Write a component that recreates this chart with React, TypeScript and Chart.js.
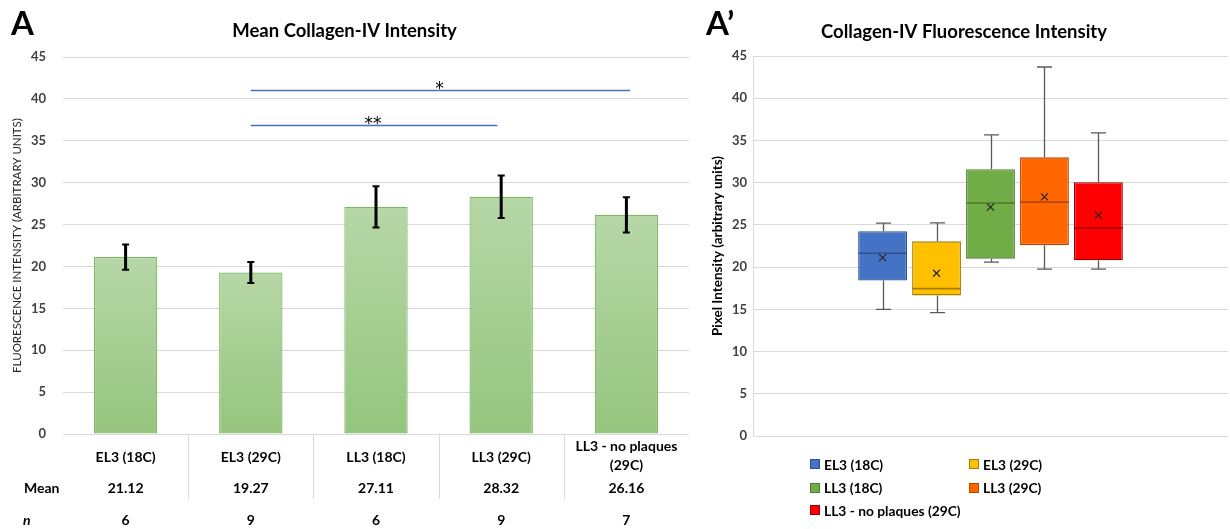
import React, { useEffect, useRef } from 'react';
import { Chart, registerables } from 'chart.js';

Chart.register(...registerables);

const FONT = 'Lato, "Open Sans", "DejaVu Sans", sans-serif';
const STAR_FONT = '"DejaVu Sans", sans-serif';

// ---------- Panel A: bar chart ----------
const categories = ['EL3 (18C)', 'EL3 (29C)', 'LL3 (18C)', 'LL3 (29C)', 'LL3 - no plaques (29C)'];
const categoryLines = [['EL3 (18C)'], ['EL3 (29C)'], ['LL3 (18C)'], ['LL3 (29C)'], ['LL3 - no plaques', '(29C)']];
const meanValues = [21.12, 19.27, 27.11, 28.32, 26.16];
const errorValues = [1.5, 1.25, 2.45, 2.55, 2.1];
const nValues = [6, 9, 6, 9, 7];
const sigFrom = [1, 1];
const sigTo = [4.03, 2.97];
const sigLevel = [41.1, 36.9];
const sigLabels = ['*', '**'];
const leftTitle = 'Mean Collagen-IV Intensity';
const leftYTitle = 'FLUORESCENCE INTENSITY (ARBITRARY UNITS)';

// ---------- Panel A': box plot ----------
const boxLabels = ['EL3 (18C)', 'EL3 (29C)', 'LL3 (18C)', 'LL3 (29C)', 'LL3 - no plaques (29C)'];
const boxMin = [15.0, 14.6, 20.6, 19.75, 19.75];
const boxQ1 = [18.4, 16.65, 21.0, 22.6, 20.8];
const boxMedian = [21.65, 17.45, 27.6, 27.7, 24.6];
const boxQ3 = [24.25, 23.05, 31.6, 33.0, 30.05];
const boxMax = [25.2, 25.25, 35.65, 43.7, 35.9];
const boxMean = [21.12, 19.27, 27.11, 28.32, 26.16];
const boxFill = ['#4472c4', '#ffc000', '#70ad47', '#ff6600', '#ff0000'];
const boxEdge = ['#2f528f', '#a37b00', '#4e7a31', '#b34700', '#9c0000'];
const rightTitle = 'Collagen-IV Fluorescence Intensity';
const rightYTitle = 'Pixel Intensity (arbitrary units)';

const yMin = 0;
const yMax = 45;
const yStep = 5;

function LeftChart() {
  const ref = useRef<HTMLCanvasElement>(null);
  useEffect(() => {
    const canvas = ref.current!;
    const overlay = {
      id: 'leftOverlay',
      afterDatasetsDraw(chart: any) {
        const ctx = chart.ctx;
        const xs = chart.scales.x;
        const ys = chart.scales.y;
        ctx.save();
        // error bars
        ctx.strokeStyle = '#000';
        for (let i = 0; i < meanValues.length; i++) {
          const cx = xs.getPixelForValue(i);
          const top = ys.getPixelForValue(meanValues[i] + errorValues[i]);
          const bot = ys.getPixelForValue(meanValues[i] - errorValues[i]);
          ctx.lineWidth = 3;
          ctx.beginPath();
          ctx.moveTo(cx, top);
          ctx.lineTo(cx, bot);
          ctx.stroke();
          ctx.lineWidth = 2;
          ctx.beginPath();
          ctx.moveTo(cx - 3.5, top);
          ctx.lineTo(cx + 3.5, top);
          ctx.moveTo(cx - 3.5, bot);
          ctx.lineTo(cx + 3.5, bot);
          ctx.stroke();
        }
        // significance lines
        for (let k = 0; k < sigLevel.length; k++) {
          const x1 = xs.getPixelForValue(sigFrom[k]);
          const x2 = xs.getPixelForValue(sigTo[k]);
          const y = Math.round(ys.getPixelForValue(sigLevel[k])) + 0.5;
          ctx.strokeStyle = '#4472c4';
          ctx.lineWidth = 1.5;
          ctx.beginPath();
          ctx.moveTo(x1, y);
          ctx.lineTo(x2, y);
          ctx.stroke();
          ctx.fillStyle = '#000';
          ctx.font = `17px ${STAR_FONT}`;
          ctx.textAlign = 'center';
          ctx.textBaseline = 'alphabetic';
          ctx.fillText(sigLabels[k], (x1 + x2) / 2 - 1, y + 3);
        }
        ctx.restore();
      },
      afterDraw(chart: any) {
        const ctx = chart.ctx;
        const xs = chart.scales.x;
        const base = chart.chartArea.bottom;
        ctx.save();
        ctx.strokeStyle = '#d9d9d9';
        ctx.lineWidth = 1;
        for (let i = 0; i < categories.length - 1; i++) {
          const px = Math.round(xs.getPixelForValue(i + 0.5)) + 0.5;
          ctx.beginPath();
          ctx.moveTo(px, base);
          ctx.lineTo(px, base + 65);
          ctx.stroke();
        }
        ctx.fillStyle = '#000';
        ctx.textAlign = 'center';
        ctx.textBaseline = 'middle';
        ctx.font = `bold 14px ${FONT}`;
        for (let i = 0; i < categories.length; i++) {
          const cx = xs.getPixelForValue(i);
          const lines = categoryLines[i];
          if (lines.length === 1) {
            ctx.fillText(lines[0], cx, base + 23);
          } else {
            ctx.fillText(lines[0], cx, base + 12);
            ctx.fillText(lines[1], cx, base + 31);
          }
          ctx.fillText(meanValues[i].toFixed(2), cx, base + 54);
          ctx.fillText(String(nValues[i]), cx, base + 86);
        }
        ctx.textAlign = 'left';
        ctx.fillText('Mean', 24, base + 54);
        ctx.font = `italic bold 14px ${FONT}`;
        ctx.fillText('n', 23, base + 86);
        ctx.restore();
      },
    };
    const chart = new Chart(canvas, {
      type: 'bar',
      data: {
        labels: categories,
        datasets: [
          {
            data: meanValues,
            backgroundColor: (c: any) => {
              const ch = c.chart;
              if (!ch.chartArea || c.type !== 'data') return '#a9d18e';
              const ys = ch.scales.y;
              const top = ys.getPixelForValue(meanValues[c.dataIndex]);
              const bot = ys.getPixelForValue(0);
              const g = ch.ctx.createLinearGradient(0, top, 0, bot);
              g.addColorStop(0, '#b6d7a7');
              g.addColorStop(1, '#95c57e');
              return g;
            },
            borderColor: '#7db85c',
            borderWidth: 1.2,
            borderSkipped: false,
            categoryPercentage: 1,
            barPercentage: 0.506,
          },
        ],
      },
      options: {
        animation: false,
        responsive: false,
        maintainAspectRatio: false,
        layout: { padding: { left: 0, right: 11, top: 0, bottom: 95 } },
        plugins: {
          legend: { display: false },
          tooltip: { enabled: false },
          title: {
            display: true,
            text: leftTitle,
            color: '#000',
            font: { family: FONT, size: 18.5, weight: 'bold' },
            padding: { top: 19.9, bottom: 14.9 },
          },
        },
        scales: {
          x: { display: false },
          y: {
            min: yMin,
            max: yMax,
            ticks: { stepSize: yStep, color: '#404040', font: { family: FONT, size: 13, weight: 'bold' }, padding: 17 },
            grid: { color: '#d9d9d9', drawTicks: false },
            border: { display: false },
            title: {
              display: true,
              text: leftYTitle,
              color: '#262626',
              font: { family: FONT, size: 11.5 },
              padding: { top: 10.1, bottom: 0 },
            },
            afterFit: (s: any) => {
              s.width = 63;
            },
          },
        },
      },
      plugins: [overlay],
    } as any);
    return () => chart.destroy();
  }, []);
  return (
    <canvas
      ref={ref}
      width={700}
      height={529}
      style={{ position: 'absolute', left: 0, top: 0, width: 700, height: 529 }}
    />
  );
}

function RightChart() {
  const ref = useRef<HTMLCanvasElement>(null);
  useEffect(() => {
    const canvas = ref.current!;
    const boxPlugin = {
      id: 'boxOverlay',
      afterDatasetsDraw(chart: any) {
        const ctx = chart.ctx;
        const ys = chart.scales.y;
        ctx.save();
        for (let i = 0; i < boxLabels.length; i++) {
          const el = chart.getDatasetMeta(i).data[0];
          const { x, width } = el.getProps(['x', 'width'], true);
          const cx = Math.round(x) + 0.5;
          const yMaxP = ys.getPixelForValue(boxMax[i]);
          const yQ3 = ys.getPixelForValue(boxQ3[i]);
          const yQ1 = ys.getPixelForValue(boxQ1[i]);
          const yMinP = ys.getPixelForValue(boxMin[i]);
          ctx.strokeStyle = '#595959';
          ctx.lineWidth = 1.3;
          ctx.beginPath();
          ctx.moveTo(cx, yMaxP);
          ctx.lineTo(cx, yQ3);
          ctx.moveTo(cx, yQ1);
          ctx.lineTo(cx, yMinP);
          ctx.moveTo(cx - 7.5, yMaxP);
          ctx.lineTo(cx + 7.5, yMaxP);
          ctx.moveTo(cx - 7.5, yMinP);
          ctx.lineTo(cx + 7.5, yMinP);
          ctx.stroke();
          // median
          const yMed = ys.getPixelForValue(boxMedian[i]);
          ctx.strokeStyle = boxEdge[i];
          ctx.lineWidth = 1.6;
          ctx.beginPath();
          ctx.moveTo(x - width / 2, yMed);
          ctx.lineTo(x + width / 2, yMed);
          ctx.stroke();
          // mean marker
          const yMean = ys.getPixelForValue(boxMean[i]);
          ctx.strokeStyle = '#262626';
          ctx.lineWidth = 1.2;
          ctx.beginPath();
          ctx.moveTo(x - 3.5, yMean - 3.5);
          ctx.lineTo(x + 3.5, yMean + 3.5);
          ctx.moveTo(x + 3.5, yMean - 3.5);
          ctx.lineTo(x - 3.5, yMean + 3.5);
          ctx.stroke();
        }
        ctx.restore();
      },
    };
    const chart = new Chart(canvas, {
      type: 'bar',
      data: {
        labels: ['Collagen-IV'],
        datasets: boxLabels.map((lab, i) => ({
          label: lab,
          data: [[boxQ1[i], boxQ3[i]]],
          backgroundColor: boxFill[i],
          borderColor: boxEdge[i],
          borderWidth: 1.3,
          borderSkipped: false,
          categoryPercentage: 0.568,
          barPercentage: 0.905,
        })),
      },
      options: {
        animation: false,
        responsive: false,
        maintainAspectRatio: false,
        layout: { padding: { left: 0, right: 2, top: 0, bottom: 93 } },
        plugins: {
          legend: { display: false },
          tooltip: { enabled: false },
          title: {
            display: true,
            text: rightTitle,
            color: '#000',
            font: { family: FONT, size: 18.5, weight: 'bold' },
            padding: { top: 20.9, bottom: 12.9 },
          },
        },
        scales: {
          x: { display: false },
          y: {
            min: yMin,
            max: yMax,
            ticks: { stepSize: yStep, color: '#404040', font: { family: FONT, size: 13, weight: 'bold' }, padding: 6 },
            grid: { color: '#d9d9d9', drawTicks: false },
            border: { display: true, color: '#d9d9d9' },
            title: {
              display: true,
              text: rightYTitle,
              color: '#000',
              font: { family: FONT, size: 13.5, weight: 'bold' },
              padding: { top: 9.9, bottom: 0 },
            },
            afterFit: (s: any) => {
              s.width = 53;
            },
          },
        },
      },
      plugins: [boxPlugin],
    } as any);
    return () => chart.destroy();
  }, []);
  return (
    <canvas
      ref={ref}
      width={530}
      height={529}
      style={{ position: 'absolute', left: 700, top: 0, width: 530, height: 529 }}
    />
  );
}

const legendCols = [810, 969];
const legendRows = [464, 487.7, 510.3];

function Legend() {
  return (
    <>
      {boxLabels.map((lab, i) => {
        const col = i % 2;
        const row = Math.floor(i / 2);
        return (
          <div
            key={lab}
            style={{
              position: 'absolute',
              left: legendCols[col],
              top: legendRows[row] - 9,
              height: 18,
              display: 'flex',
              alignItems: 'center',
              fontFamily: FONT,
              fontWeight: 'bold',
              fontSize: 13.8,
              color: '#000',
              whiteSpace: 'nowrap',
            }}
          >
            <span
              style={{
                display: 'inline-block',
                width: 8,
                height: 8,
                background: boxFill[i],
                border: `1px solid ${boxEdge[i]}`,
                marginRight: 4,
              }}
            />
            <span>{lab}</span>
          </div>
        );
      })}
    </>
  );
}

export default function App() {
  const panelLabel: React.CSSProperties = {
    position: 'absolute',
    fontFamily: FONT,
    fontWeight: 'bold',
    fontSize: 33,
    lineHeight: '33px',
    color: '#000',
  };
  return (
    <div style={{ position: 'absolute', left: 0, top: 0, width: 1230, height: 529, background: '#fff', overflow: 'hidden' }}>
      <LeftChart />
      <RightChart />
      <Legend />
      <div style={{ ...panelLabel, left: 11, top: 6 }}>A</div>
      <div style={{ ...panelLabel, left: 706, top: 6 }}>A’</div>
    </div>
  );
}
